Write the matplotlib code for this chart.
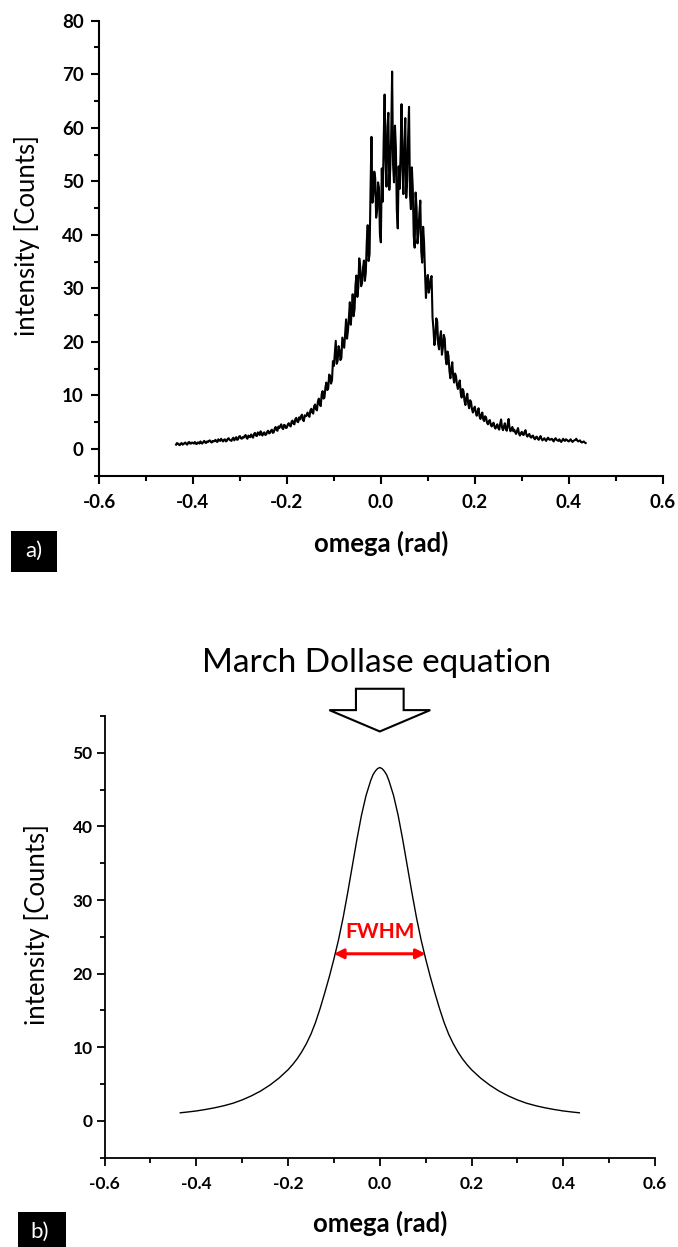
import numpy as np
import matplotlib
matplotlib.use("Agg")
import matplotlib.pyplot as plt
from matplotlib.patches import Rectangle, FancyArrow
from matplotlib.ticker import MultipleLocator

plt.rcParams['font.family'] = ['Lato', 'DejaVu Sans']

# ---------------- data: panel a (measured rocking curve) ----------------
omega_start, omega_stop = -0.436, 0.436
intensity_measured = [
    0.8, 1.1, 1.0, 0.8, 0.7, 1.0, 1.1, 0.8, 0.9, 1.1, 1.2, 0.9, 0.8, 1.2, 1.3, 1.0, 1.0, 1.2, 1.1, 1.0,
    1.3, 1.0, 0.9, 1.2, 1.2, 1.0, 1.4, 1.1, 1.0, 1.3, 1.5, 1.2, 1.1, 1.4, 1.3, 1.5, 1.6, 1.3, 1.2, 1.5,
    1.4, 1.5, 1.7, 1.4, 1.3, 1.8, 1.6, 1.5, 1.9, 1.6, 1.4, 1.7, 1.8, 1.4, 1.5, 1.9, 2.0, 1.7, 1.6, 1.5,
    1.9, 2.1, 1.6, 1.9, 2.2, 1.7, 1.8, 2.3, 2.4, 2.0, 1.9, 2.2, 2.1, 2.4, 2.6, 2.1, 1.9, 2.5, 2.3, 2.2,
    2.7, 2.3, 2.1, 2.8, 3.0, 2.5, 2.4, 3.1, 2.8, 2.6, 3.3, 2.8, 2.5, 3.0, 3.1, 2.6, 2.7, 3.2, 3.4, 2.9,
    3.0, 3.4, 3.6, 3.0, 3.1, 3.8, 4.1, 3.5, 3.4, 4.2, 3.9, 4.3, 4.6, 3.9, 3.7, 4.5, 4.4, 3.9, 4.0, 4.6,
    4.8, 4.4, 4.2, 5.1, 5.3, 4.7, 4.6, 5.6, 5.8, 5.1, 5.0, 5.9, 5.5, 6.1, 6.4, 5.4, 5.2, 6.3, 6.1, 6.2,
    6.8, 6.3, 6.0, 7.2, 7.5, 6.8, 6.6, 8.0, 8.3, 7.4, 7.2, 8.9, 9.4, 8.3, 8.0, 10.2, 10.8, 9.4, 9.6, 11.5,
    12.4, 11.0, 11.3, 13.9, 13.6, 12.2, 12.8, 16.4, 15.5, 17.8, 20.2, 15.9, 16.4, 19.2, 18.5, 16.6, 17.0, 20.8, 19.8, 18.9,
    21.5, 24.2, 20.6, 22.1, 24.6, 27.4, 23.2, 25.8, 28.9, 24.8, 26.1, 30.6, 32.4, 28.4, 30.2, 35.6, 34.1, 30.4, 31.0, 33.8,
    35.2, 31.4, 33.0, 38.6, 41.8, 35.1, 36.4, 48.2, 58.3, 46.0, 47.5, 51.8, 50.6, 43.2, 44.6, 49.8, 48.8, 40.2, 38.6, 52.4,
    46.2, 57.5, 66.2, 53.8, 49.0, 60.2, 62.8, 48.4, 52.4, 58.6, 70.5, 53.1, 49.8, 60.4, 56.3, 44.6, 41.2, 52.8, 48.6, 55.2,
    64.4, 52.0, 47.6, 57.3, 61.8, 46.9, 50.2, 58.2, 63.9, 47.5, 44.8, 52.6, 48.7, 39.8, 37.6, 47.9, 45.2, 38.4, 40.3, 44.1,
    46.4, 36.9, 34.8, 41.5, 38.6, 33.0, 28.2, 31.2, 32.5, 29.2, 30.1, 31.8, 32.3, 24.6, 22.4, 19.4, 20.5, 24.4, 23.8, 19.6,
    18.6, 20.8, 22.0, 17.6, 18.9, 21.3, 20.6, 16.9, 15.8, 18.2, 17.4, 14.6, 13.2, 15.0, 16.2, 13.5, 12.4, 14.1, 13.6, 12.0,
    11.2, 12.1, 12.8, 10.4, 9.6, 11.2, 10.8, 9.0, 8.2, 9.6, 10.3, 8.4, 7.6, 9.1, 8.8, 7.4, 6.8, 7.5, 7.9, 6.9,
    6.2, 7.0, 7.6, 6.1, 5.6, 6.4, 6.8, 5.5, 5.2, 6.1, 5.9, 4.9, 4.6, 5.2, 5.4, 4.5, 4.2, 4.7, 4.9, 4.1,
    3.8, 4.3, 4.6, 3.9, 3.6, 4.7, 5.5, 4.0, 3.5, 4.2, 4.8, 3.7, 3.4, 4.6, 5.6, 3.9, 3.3, 3.8, 4.1, 3.3,
    3.6, 3.1, 2.8, 3.4, 3.9, 2.9, 2.5, 2.9, 3.2, 2.7, 2.6, 3.2, 3.5, 2.6, 2.3, 2.6, 2.8, 2.3, 2.1, 2.4,
    2.5, 2.0, 1.8, 2.2, 2.3, 1.9, 1.7, 2.1, 2.4, 1.9, 1.6, 1.8, 2.0, 1.7, 1.5, 1.9, 2.1, 1.8, 1.7, 1.8,
    1.9, 1.6, 1.4, 1.8, 2.0, 1.7, 1.6, 1.5, 1.8, 1.5, 1.3, 1.6, 1.9, 1.6, 1.5, 1.8, 1.7, 1.5, 1.4, 1.6,
    1.8, 1.5, 1.3, 1.5, 1.6, 1.7, 1.9, 1.6, 1.4, 1.5, 1.6, 1.3, 1.2, 1.3, 1.4, 1.2, 1.1,
]
omega_measured = np.linspace(omega_start, omega_stop, len(intensity_measured))

# ---------------- data: panel b (March-Dollase fit) ----------------
omega_fit = [-0.435, -0.42, -0.40, -0.38, -0.36, -0.34, -0.32, -0.30, -0.28, -0.26,
             -0.24, -0.22, -0.20, -0.19, -0.18, -0.17, -0.16, -0.15, -0.14, -0.13,
             -0.12, -0.11, -0.10, -0.09, -0.08, -0.07, -0.06, -0.05, -0.04, -0.03,
             -0.02, -0.015, -0.01, -0.005, 0.0, 0.005, 0.01, 0.015, 0.02,
             0.03, 0.04, 0.05, 0.06, 0.07, 0.08, 0.09, 0.10, 0.11, 0.12,
             0.13, 0.14, 0.15, 0.16, 0.17, 0.18, 0.19, 0.20, 0.22, 0.24,
             0.26, 0.28, 0.30, 0.32, 0.34, 0.36, 0.38, 0.40, 0.42, 0.435]
intensity_fit = [1.1, 1.2, 1.35, 1.55, 1.78, 2.06, 2.4, 2.85, 3.4, 4.05,
                 4.85, 5.8, 6.95, 7.65, 8.45, 9.4, 10.5, 11.8, 13.4, 15.3,
                 17.4, 19.6, 22.0, 24.6, 27.6, 31.0, 34.6, 38.2, 41.5, 44.2,
                 46.2, 47.0, 47.5, 47.85, 48.0, 47.85, 47.5, 47.0, 46.2,
                 44.2, 41.5, 38.2, 34.6, 31.0, 27.6, 24.6, 22.0, 19.6, 17.4,
                 15.3, 13.4, 11.8, 10.5, 9.4, 8.45, 7.65, 6.95, 5.8, 4.85,
                 4.05, 3.4, 2.85, 2.4, 2.06, 1.78, 1.55, 1.35, 1.2, 1.1]
fwhm_left, fwhm_right, fwhm_level = -0.10, 0.10, 22.7

xticks = [-0.6, -0.4, -0.2, 0.0, 0.2, 0.4, 0.6]
xticklabels = ['-0.6', '-0.4', '-0.2', '0.0', '0.2', '0.4', '0.6']
yticks_a = [0, 10, 20, 30, 40, 50, 60, 70, 80]
yticks_b = [0, 10, 20, 30, 40, 50]

W, H = 678, 1247
fig = plt.figure(figsize=(W / 100, H / 100), dpi=100)


def px_axes(l, r, t, b):
    return [l / W, 1 - b / H, (r - l) / W, (b - t) / H]


def style_axes(ax, tick_size, spine_lw):
    for s in ['top', 'right']:
        ax.spines[s].set_visible(False)
    for s in ['left', 'bottom']:
        ax.spines[s].set_linewidth(spine_lw)
    ax.xaxis.set_minor_locator(MultipleLocator(0.1))
    ax.yaxis.set_minor_locator(MultipleLocator(5))
    ax.tick_params(which='major', direction='out', length=6, width=spine_lw)
    ax.tick_params(which='minor', direction='out', length=3.5, width=spine_lw)
    ax.set_xticks(xticks)
    ax.set_xticklabels(xticklabels)
    for lab in ax.get_xticklabels() + ax.get_yticklabels():
        lab.set_fontweight('bold')
        lab.set_fontsize(tick_size)


# ---------------- panel a ----------------
ax1 = fig.add_axes(px_axes(99, 662.7, 20.7, 475.7))
ax1.plot(omega_measured, intensity_measured, color='black', lw=1.5)
ax1.set_xlim(-0.6, 0.6)
ax1.set_ylim(-5, 80)
ax1.set_yticks(yticks_a)
style_axes(ax1, 13.5, 1.5)
ax1.tick_params(axis='y', pad=5)
ax1.tick_params(axis='x', pad=7.5)
ax1.set_xlabel('omega (rad)', fontsize=18.5, fontweight='bold')
ax1.xaxis.set_label_coords(0.5, -0.148)
ax1.xaxis.label.set_va('center')
ax1.set_ylabel('intensity [Counts]', fontsize=18.5)
ax1.yaxis.set_label_coords(-0.127, 0.527)
ax1.yaxis.label.set_va('center')

fig.patches.append(Rectangle((11 / W, 1 - 572 / H), 46 / W, 41 / H,
                             transform=fig.transFigure, facecolor='black',
                             edgecolor='none'))
fig.text(34 / W, 1 - 551 / H, 'a)', color='white', fontsize=16,
         ha='center', va='center')

# ---------------- panel b ----------------
ax2 = fig.add_axes(px_axes(104.6, 655, 716, 1157.7))
ax2.plot(omega_fit, intensity_fit, color='black', lw=1.0)
ax2.set_xlim(-0.6, 0.6)
ax2.set_ylim(-5, 55)
ax2.set_yticks(yticks_b)
style_axes(ax2, 12.5, 1.3)
ax2.tick_params(axis='y', pad=2.5)
ax2.tick_params(axis='x', pad=7)
ax2.set_xlabel('omega (rad)', fontsize=18.5, fontweight='bold')
ax2.xaxis.set_label_coords(0.5, -0.148)
ax2.xaxis.label.set_va('center')
ax2.set_ylabel('intensity [Counts]', fontsize=18.5)
ax2.yaxis.set_label_coords(-0.123, 0.527)
ax2.yaxis.label.set_va('center')

ax2.annotate('', xy=(fwhm_left, fwhm_level), xytext=(fwhm_right, fwhm_level),
             arrowprops=dict(arrowstyle='<|-|>', color='red', lw=2.2,
                             mutation_scale=14, shrinkA=0, shrinkB=0))
ax2.text(0.0, 25.6, 'FWHM', color='red', fontsize=15, fontweight='bold',
         ha='center', va='center')

arrow = FancyArrow(0.0, 58.7, 0.0, -5.8, width=0.104, head_width=0.22,
                   head_length=2.9, length_includes_head=True,
                   facecolor='white', edgecolor='black', lw=1.5,
                   clip_on=False)
ax2.add_patch(arrow)
fig.text(377 / W, 1 - 663 / H, 'March Dollase equation', fontsize=24,
         ha='center', va='center')

fig.patches.append(Rectangle((18 / W, 0), 48 / W, 35.3 / H,
                             transform=fig.transFigure, facecolor='black',
                             edgecolor='none'))
fig.text(40 / W, 1 - 1232 / H, 'b)', color='white', fontsize=16,
         ha='center', va='center')

fig.savefig('out.png', dpi=100)
